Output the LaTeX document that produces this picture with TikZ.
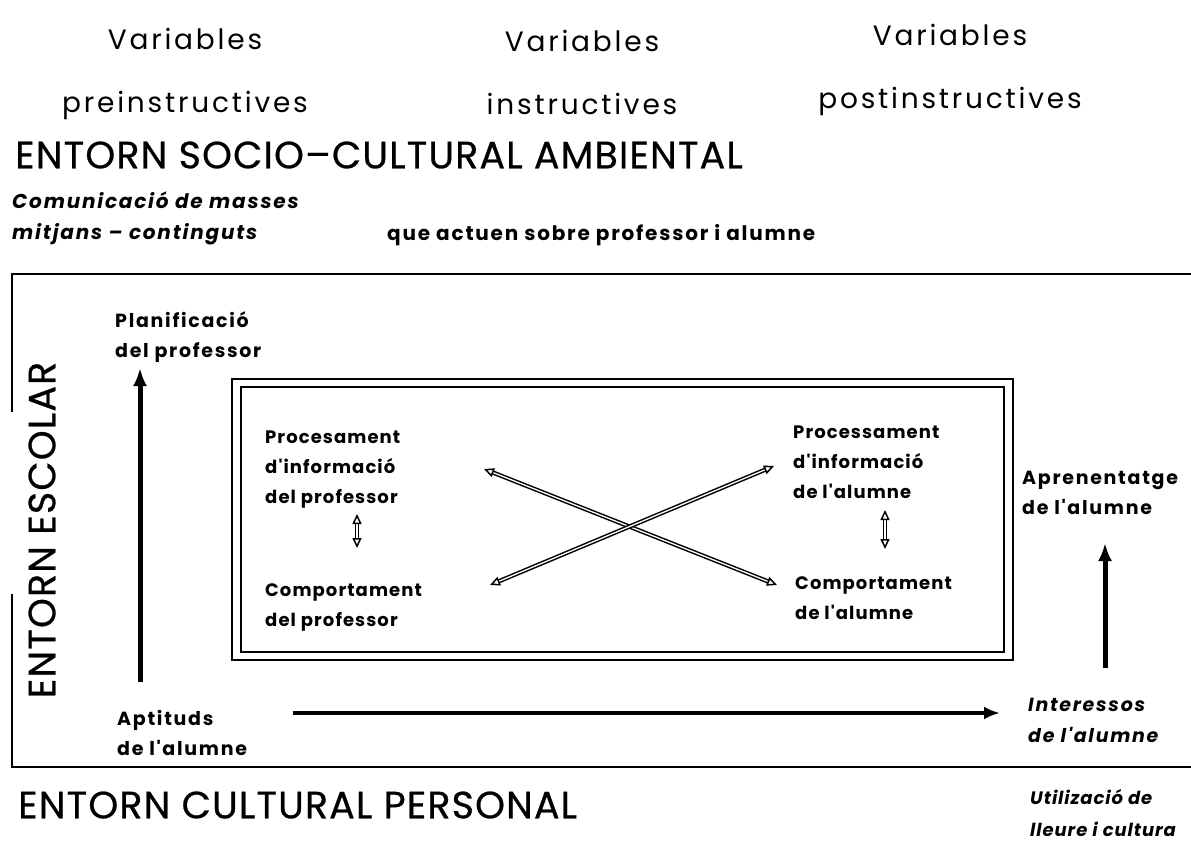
\documentclass[tikz,border=0pt]{standalone}
\usepackage{fontspec}
\setmainfont{Poppins}
\newfontfamily\hdrfont{Poppins}[LetterSpace=10]
\newfontfamily\titlefont{Poppins}[LetterSpace=3,FakeBold=0.6]
\newfontfamily\lblfont{Poppins}[LetterSpace=6]
\newfontfamily\outfont{Poppins}[LetterSpace=9]
\newfontfamily\utilfont{Poppins}[LetterSpace=5]
\usetikzlibrary{arrows.meta}
\begin{document}
\begin{tikzpicture}[x=1pt,y=-1pt,
  hdr/.style={font=\hdrfont\fontsize{28}{63}\selectfont, align=center, inner sep=0},
  big/.style={font=\titlefont\fontsize{38}{45}\selectfont, anchor=west, inner sep=0},
  lbl/.style={font=\lblfont\fontsize{18}{30}\selectfont\bfseries, align=left, anchor=west, inner sep=0},
  olbl/.style={font=\outfont\fontsize{19}{30}\selectfont\bfseries, align=left, anchor=west, inner sep=0},
  ilbl/.style={font=\outfont\fontsize{19}{31}\selectfont\bfseries\itshape, align=left, anchor=west, inner sep=0},
  frame/.style={line width=1.8pt},
  boxline/.style={line width=1.6pt},
  thickarrow/.style={line width=5pt, -{Latex[length=18pt,width=14pt]}},
  hollow/.style={double=white, double distance=1.3pt, line width=1.5pt, {Triangle[open,length=10pt,width=9pt]}-{Triangle[open,length=10pt,width=9pt]}}
]
\useasboundingbox (0,0) rectangle (1191,853);

% headers
\node[hdr] (h1) at (185,74) {Variables\\preinstructives};
\node[hdr] (h2) at (582,72) {Variables\\instructives};
\node[hdr] (h3) at (950,70) {Variables\\postinstructives};

\node[big] (amb) at (15,155) {ENTORN SOCIO–CULTURAL AMBIENTAL};
\node[ilbl, font=\outfont\fontsize{20}{31}\selectfont\bfseries\itshape] (comm) at (12,218) {Comunicació de masses\\mitjans – continguts};
\node[olbl, font=\outfont\fontsize{20}{30}\selectfont\bfseries] (que) at (387,235) {que actuen sobre professor i alumne};

% outer frame
\draw[frame] (12,412) -- (12,274) -- (1191,274);
\draw[frame] (12,594) -- (12,767) -- (1191,767);

\node[big, anchor=center, rotate=90] (esc) at (42,530) {ENTORN ESCOLAR};

% inner double box
\draw[boxline] (232,379) rectangle (1013,660);
\draw[boxline] (241,387) rectangle (1004,652);

% labels
\node[olbl] (plan) at (115,337) {Planificació\\del professor};
\node[lbl] (proc1) at (265,470) {Procesament\\d'informació\\del professor};
\node[lbl] (comp1) at (265,607) {Comportament\\del professor};
\node[lbl] (proc2) at (793,462) {Processament\\d'informació\\de l'alumne};
\node[lbl] (comp2) at (795,598) {Comportament\\de l'alumne};
\node[olbl] (apren) at (1022,493) {Aprenentatge\\de l'alumne};
\node[olbl] (apt) at (117,733) {Aptituds\\de l'alumne};
\node[ilbl] (inter) at (1028,720) {Interessos\\de l'alumne};

\node[big] (pers) at (18,805) {ENTORN CULTURAL PERSONAL};
\node[ilbl, font=\utilfont\fontsize{18}{32}\selectfont\bfseries\itshape] (util) at (1030,813) {Utilizació de\\lleure i cultura};

% coordinates for arrows
\coordinate (a1s) at (140,682);
\coordinate (a1e) at (140,368);
\coordinate (a2s) at (1105,668);
\coordinate (a2e) at (1105,543);
\coordinate (a3s) at (293,713);
\coordinate (a3e) at (1000,713);
\coordinate (d1s) at (357,514);
\coordinate (d1e) at (357,548);
\coordinate (d2s) at (885,510);
\coordinate (d2e) at (885,549);
\coordinate (x1s) at (484,469);
\coordinate (x1e) at (777,585);
\coordinate (x2s) at (490,585);
\coordinate (x2e) at (774,466);

\draw[thickarrow] (a1s) -- (a1e);
\draw[thickarrow] (a2s) -- (a2e);
\draw[line width=4.5pt, -{Latex[length=16pt,width=13pt]}] (a3s) -- (a3e);
\draw[hollow] (d1s) -- (d1e);
\draw[hollow] (d2s) -- (d2e);
\draw[hollow] (x1s) -- (x1e);
\draw[hollow] (x2s) -- (x2e);
\end{tikzpicture}
\end{document}
